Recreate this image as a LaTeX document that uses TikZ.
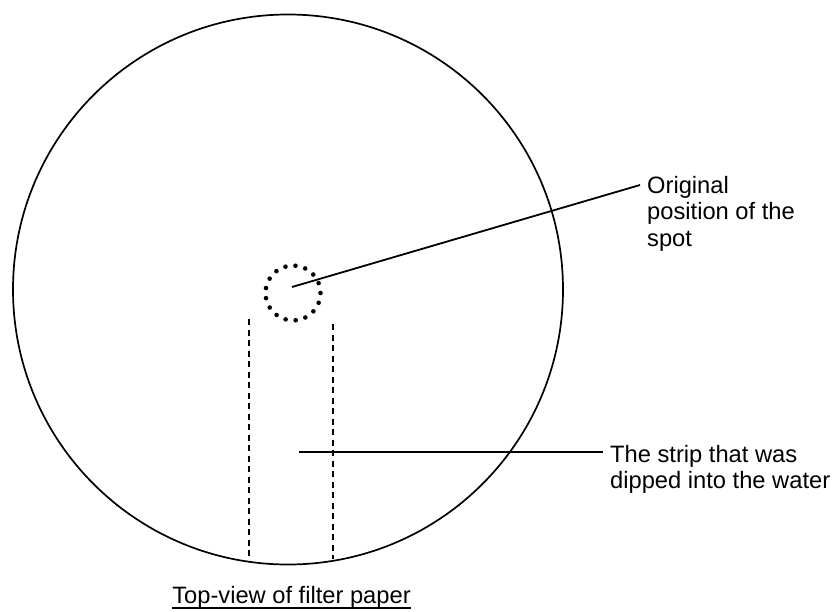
\documentclass[tikz,border=0pt]{standalone}
\usepackage{fontspec}
\setmainfont{Liberation Sans}
\usetikzlibrary{calc}
\begin{document}
\begin{tikzpicture}[x=1pt,y=-1pt,
  outline/.style={draw=black,line width=1.7pt},
  dotring/.style={draw=black,line width=4.6pt,line cap=round,dash pattern=on 0pt off 10.16pt},
  stripedge/.style={draw=black,line width=1.3pt,dash pattern=on 6pt off 4.5pt},
  leader/.style={draw=black,line width=1.8pt},
  lbl/.style={inner sep=0pt,align=left,font=\fontsize{23.7}{26.5}\selectfont}
]
\useasboundingbox (0,0) rectangle (836,611);
% filter paper
\node[circle,outline,minimum size=550pt,inner sep=0pt] (paper) at (288,289.5) {};
% original spot
\node[circle,dotring,minimum size=55pt,inner sep=0pt] (spot) at (293,293) {};
% strip edges
\coordinate (sl1) at (249,319);
\coordinate (sl2) at (249,561);
\coordinate (sr1) at (333,324);
\coordinate (sr2) at (333,559);
\draw[stripedge] (sl1) -- (sl2);
\draw[stripedge] (sr1) -- (sr2);
% labels (base anchor = baseline of last line)
\node[lbl,anchor=base west] (lspot) at (647,246) {Original\\position of the\\spot};
\node[lbl,anchor=base west] (lstrip) at (610,488.5) {The strip that was\\dipped into the water};
\node[lbl,anchor=base] (caption) at (291.5,603) {Top-view of filter paper};
% leaders
\coordinate (s0) at (292,287);
\coordinate (s1) at (640,185);
\draw[leader] (s0) -- (s1);
\coordinate (t0) at (299,452);
\coordinate (t1) at (603,452);
\draw[leader] (t0) -- (t1);
% underline
\draw[line width=1.4pt] ($(caption.base west)+(0,5)$) -- ($(caption.base east)+(0,5)$);
\end{tikzpicture}
\end{document}
